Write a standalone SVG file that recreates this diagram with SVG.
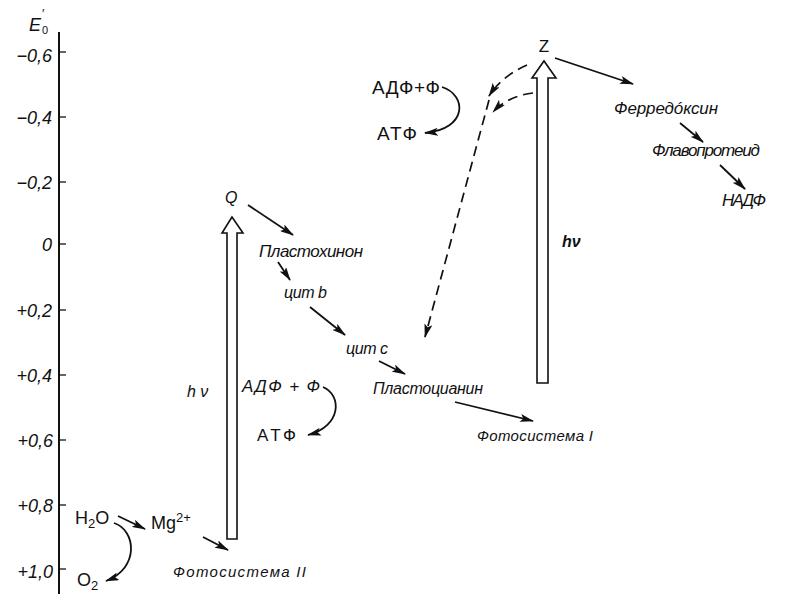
<svg xmlns="http://www.w3.org/2000/svg" width="785" height="596" viewBox="0 0 785 596">
<defs>
<style>
.t{font-family:"Liberation Sans",Arial,sans-serif;fill:#111}
.it{font-style:italic}
.ln{stroke:#111;stroke-width:1.8;fill:none}
.dash{stroke:#111;stroke-width:1.7;fill:none;stroke-dasharray:10 6}
.big{fill:#fff;stroke:#111;stroke-width:1.6}
.ax{stroke:#111;stroke-width:2;fill:none}
.tk{stroke:#111;stroke-width:1.3}
</style>
<marker id="ah" viewBox="0 0 14 8" refX="13" refY="4" markerWidth="14" markerHeight="8" markerUnits="userSpaceOnUse" orient="auto"><path d="M0,0 L14,4 L0,8 L3,4 Z" fill="#111"/></marker>
</defs>
<rect width="785" height="596" fill="#fff"/>

<g id="axis">
<line class="ax" x1="59" y1="32" x2="59" y2="594"/>
<g class="tk">
<line x1="59" y1="52" x2="66" y2="52"/>
<line x1="59" y1="117" x2="66" y2="117"/>
<line x1="59" y1="182" x2="66" y2="182"/>
<line x1="59" y1="244" x2="66" y2="244"/>
<line x1="59" y1="310" x2="66" y2="310"/>
<line x1="59" y1="375" x2="66" y2="375"/>
<line x1="59" y1="440" x2="66" y2="440"/>
<line x1="59" y1="505" x2="66" y2="505"/>
<line x1="59" y1="569" x2="66" y2="569"/>
</g>
<text class="t it" x="29" y="31" font-size="18">E</text>
<text class="t" x="42" y="18" font-size="13">′</text>
<text class="t" x="42" y="34" font-size="11">0</text>
<g class="t it" font-size="18" text-anchor="end">
<text x="52" y="62">−0,6</text>
<text x="52" y="124">−0,4</text>
<text x="52" y="189">−0,2</text>
<text x="52" y="251">0</text>
<text x="52" y="317">+0,2</text>
<text x="52" y="382">+0,4</text>
<text x="53" y="447">+0,6</text>
<text x="53" y="512">+0,8</text>
<text x="53" y="578">+1,0</text>
</g>
</g>

<g id="h2o"><text class="t" x="75" y="524" font-size="18">H<tspan font-size="13" dy="4">2</tspan><tspan dy="-4">O</tspan></text></g>
<g id="mg"><text class="t" x="151" y="529" font-size="18">Mg<tspan font-size="13" dy="-7">2+</tspan></text></g>
<g id="o2"><text class="t" x="77" y="586" font-size="18">O<tspan font-size="13" dy="4">2</tspan></text></g>
<g id="ps2"><text class="t it" x="173" y="577" font-size="15" textLength="133">Фотосистема II</text></g>
<g id="q"><text class="t it" x="225" y="203" font-size="16">Q</text></g>
<g id="plastoquinone"><text class="t it" x="259" y="257" font-size="17" textLength="104">Пластохинон</text></g>
<g id="cytb"><text class="t it" x="284" y="298" font-size="16" textLength="43">цит b</text></g>
<g id="cytc"><text class="t it" x="346" y="354" font-size="16" textLength="42">цит c</text></g>
<g id="plastocyanin"><text class="t it" x="373" y="394" font-size="16" textLength="110">Пластоцианин</text></g>
<g id="ps1"><text class="t it" x="477" y="441" font-size="15" textLength="116">Фотосистема I</text></g>
<g id="adp-low"><text class="t it" x="242" y="392" font-size="17" textLength="78">АДФ + Ф</text></g>
<g id="atp-low"><text class="t" x="257" y="441" font-size="17" textLength="39">АТФ</text></g>
<g id="adp-up"><text class="t" x="372" y="94" font-size="19" textLength="68">АДФ+Ф</text></g>
<g id="atp-up"><text class="t" x="377" y="140" font-size="19" textLength="40">АТФ</text></g>
<g id="z"><text class="t" x="544" y="52" font-size="17" text-anchor="middle">Z</text></g>
<g id="ferredoxin"><text class="t it" x="614" y="114" font-size="17" textLength="104">Ферредóксин</text></g>
<g id="flavoprotein"><text class="t it" x="652" y="156" font-size="17" textLength="108">Флавопротеид</text></g>
<g id="nadp"><text class="t it" x="722" y="206" font-size="17" textLength="44">НАДФ</text></g>
<g id="hv1"><text class="t it" x="187" y="397" font-size="16">h ν</text></g>
<g id="hv2"><text class="t it" x="562" y="247" font-size="16" font-weight="bold">hν</text></g>

<g id="light-ps2"><path class="big" d="M227,539 V233 H222 L232,217 L243,233 H237 V539 Z"/></g>
<g id="light-ps1"><path class="big" d="M537,383 V78 H532 L544,61 L556,78 H548 V383 Z"/></g>

<g id="connectors">
<path class="ln" marker-end="url(#ah)" d="M118,516 L145,529"/>
<path class="ln" marker-end="url(#ah)" d="M114,523 C136,530 140,568 106,581"/>
<path class="ln" marker-end="url(#ah)" d="M203,537 L228,550"/>
<path class="ln" marker-end="url(#ah)" d="M248,205 L293,235"/>
<path class="ln" marker-end="url(#ah)" d="M278,262 L290,280"/>
<path class="ln" marker-end="url(#ah)" d="M310,307 L345,335"/>
<path class="ln" marker-end="url(#ah)" d="M379,361 L405,374"/>
<path class="ln" marker-end="url(#ah)" d="M455,402 L533,421"/>
<path class="ln" marker-end="url(#ah)" d="M323,387 C342,395 342,426 308,435"/>
<path class="ln" marker-end="url(#ah)" d="M442,87 C467,95 468,129 425,133"/>
<path class="ln" marker-end="url(#ah)" d="M555,58 L633,84"/>
<path class="ln" marker-end="url(#ah)" d="M680,123 L703,142"/>
<path class="ln" marker-end="url(#ah)" d="M720,165 L745,189"/>
<path class="dash" marker-end="url(#ah)" d="M527,65 Q502,76 489,96"/>
<path class="dash" marker-end="url(#ah)" d="M533,93 Q508,96 493,112"/>
<path class="dash" marker-end="url(#ah)" d="M489,100 L425,337"/>
</g>
</svg>
